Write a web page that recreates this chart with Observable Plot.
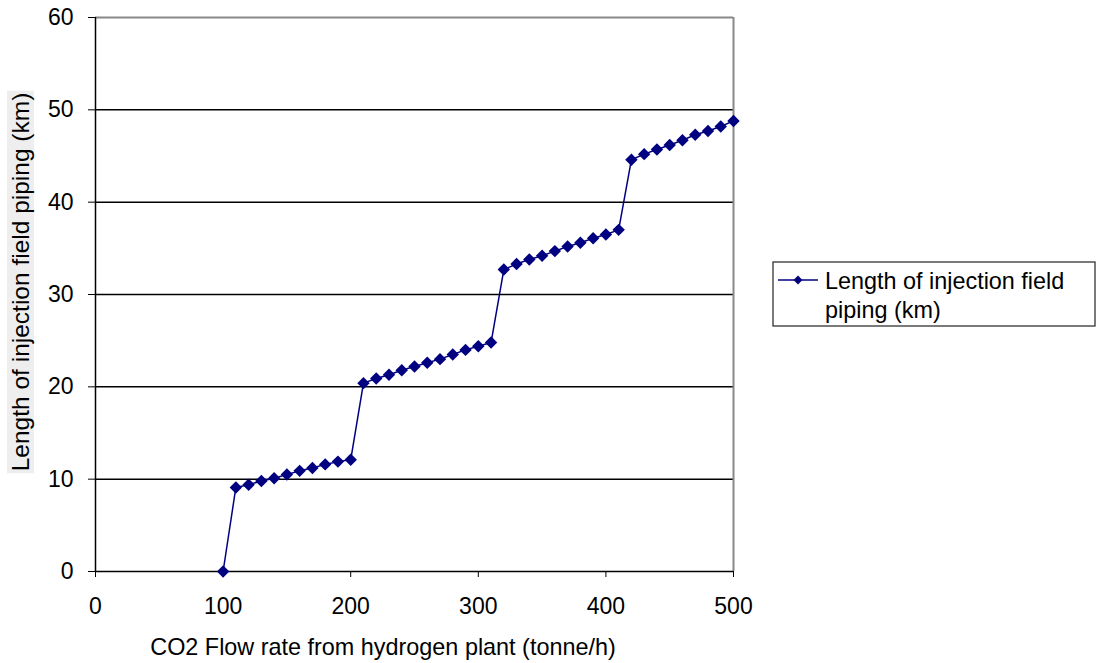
<!DOCTYPE html>
<html><head><meta charset="utf-8">
<script src="https://cdn.jsdelivr.net/npm/d3@7"></script>
<script src="https://cdn.jsdelivr.net/npm/@observablehq/plot@0.6"></script>
<style>body{margin:0;background:#fff;}</style>
</head><body><div id="chart"></div>
<script>
const flowRates = [100,110,120,130,140,150,160,170,180,190,200,210,220,230,240,250,260,270,280,290,300,310,320,330,340,350,360,370,380,390,400,410,420,430,440,450,460,470,480,490,500];
const pipingLength = [0,9.1,9.4,9.8,10.1,10.5,10.9,11.2,11.6,11.9,12.1,20.4,20.9,21.3,21.8,22.2,22.6,23.0,23.5,24.0,24.4,24.8,32.7,33.3,33.8,34.2,34.7,35.2,35.6,36.1,36.5,37.0,44.6,45.2,45.7,46.2,46.7,47.3,47.7,48.2,48.8];
const xTicks = [0,100,200,300,400,500];
const yTicks = [0,10,20,30,40,50,60];
const gridValues = [10,20,30,40,50];
const seriesName = ["Length of injection field", "piping (km)"];
const xTitle = "CO2 Flow rate from hydrogen plant (tonne/h)";
const yTitle = "Length of injection field piping (km)";

const data = flowRates.map((x, i) => ({x, y: pipingLength[i]}));
const FONT = "Liberation Sans, Arial, sans-serif";
const navy = "#000080";

const plot = Plot.plot({
  width: 1097, height: 663,
  marginLeft: 95, marginRight: 364, marginTop: 17, marginBottom: 92,
  style: {fontFamily: FONT, fontSize: "23px", color: "#000", background: "#fff"},
  x: {domain: [0, 500]},
  y: {domain: [0, 60]},
  marks: [
    Plot.ruleY(gridValues, {stroke: "#000", strokeWidth: 1.5}),
    Plot.ruleY([60], {stroke: "#888", strokeWidth: 2}),
    Plot.ruleX([500], {stroke: "#888", strokeWidth: 2}),
    Plot.ruleX([0], {stroke: "#000", strokeWidth: 1.5}),
    Plot.ruleY([0], {stroke: "#000", strokeWidth: 1.5}),
    Plot.axisY({ticks: yTicks, tickSize: 7, tickPadding: 15, label: null, fontSize: 23, stroke: "#000"}),
    Plot.axisX({ticks: xTicks, tickSize: 6, tickPadding: 20, label: null, fontSize: 23, stroke: "#000"}),
    Plot.line(data, {x: "x", y: "y", stroke: navy, strokeWidth: 1.5}),
    Plot.dot(data, {x: "x", y: "y", symbol: "diamond2", r: 5.6, fill: navy, stroke: "none"})
  ]
});
document.getElementById("chart").appendChild(plot);

const svg = d3.select(plot);
// x title
svg.append("text").attr("x", 383).attr("y", 655).attr("text-anchor", "middle")
  .style("font-family", FONT).style("font-size", "23.4px").attr("fill", "#000").text(xTitle);
// y title with light background
const yg = svg.append("g").attr("transform", "translate(29,282) rotate(-90)");
const bg = yg.append("rect").attr("fill", "#eeeeee");
const yt = yg.append("text").attr("text-anchor", "middle")
  .style("font-family", FONT).style("font-size", "24.5px").attr("fill", "#000").text(yTitle);
const bb = yt.node().getBBox();
bg.attr("x", bb.x - 2).attr("y", bb.y).attr("width", bb.width + 4).attr("height", bb.height);

// legend
const lg = svg.append("g");
lg.append("rect").attr("x", 773).attr("y", 262).attr("width", 322).attr("height", 64)
  .attr("fill", "#fff").attr("stroke", "#222").attr("stroke-width", 1.2);
lg.append("line").attr("x1", 778).attr("x2", 818).attr("y1", 280).attr("y2", 280)
  .attr("stroke", navy).attr("stroke-width", 1.5);
lg.append("path").attr("d", d3.symbol(d3.symbolDiamond2, Math.PI * 16)()).attr("transform", "translate(798,280)").attr("fill", navy);
seriesName.forEach((t, i) => {
  lg.append("text").attr("x", 825).attr("y", 289 + i * 29).attr("text-anchor", "start")
    .style("font-family", FONT).style("font-size", "23.4px").attr("fill", "#000").text(t);
});
</script>
</body></html>
